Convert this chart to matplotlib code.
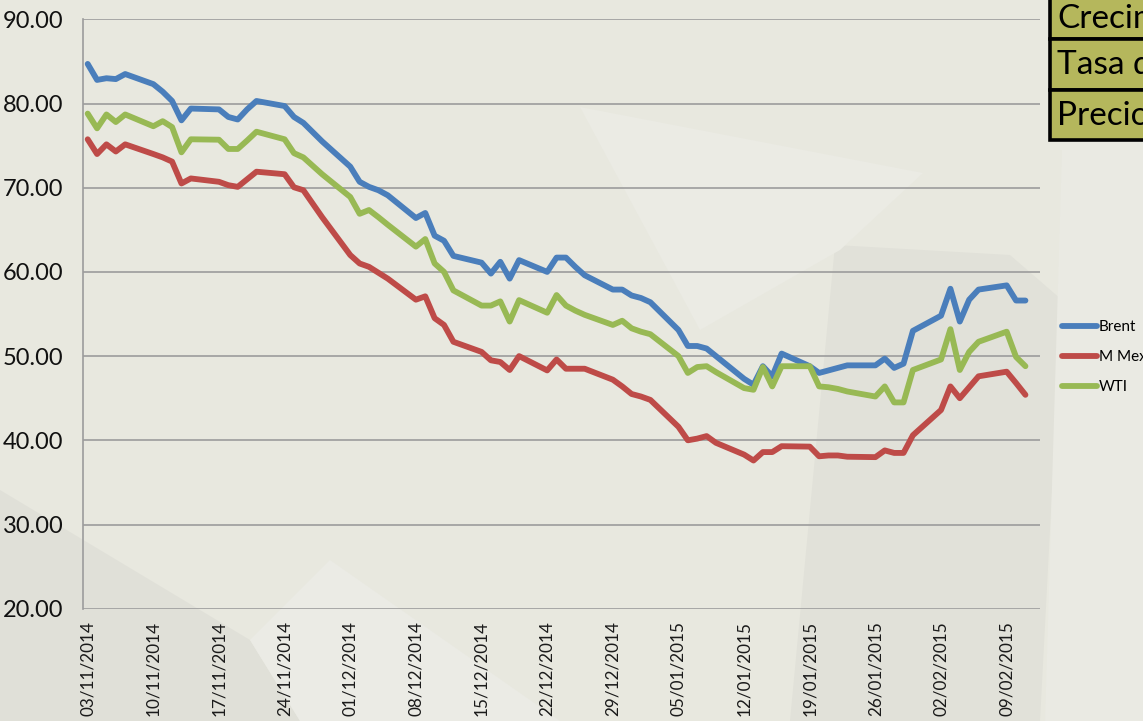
import matplotlib
matplotlib.use('Agg')
import matplotlib.pyplot as plt
from matplotlib.patches import Polygon, Rectangle
import pandas as pd

W, H = 1143, 721

# daily crude prices, US$ per barrel (weekdays 03/11/2014 - 11/02/2015)
dates = pd.bdate_range('2014-11-03', '2015-02-11')

brent = [84.7, 82.8, 83.0, 82.9, 83.5,
         82.3, 81.4, 80.3, 78.0, 79.4,
         79.3, 78.4, 78.1, 79.3, 80.3,
         79.7, 78.4, 77.7, 76.6, 75.5,
         72.5, 70.7, 70.1, 69.7, 69.1,
         66.4, 67.0, 64.3, 63.7, 61.9,
         61.1, 59.8, 61.2, 59.2, 61.4,
         60.0, 61.7, 61.7, 60.6, 59.6,
         57.9, 57.9, 57.2, 56.9, 56.4,
         53.1, 51.2, 51.2, 50.9, 50.0,
         47.3, 46.6, 48.8, 47.6, 50.3,
         48.8, 48.0, 48.3, 48.6, 48.9,
         48.9, 49.7, 48.6, 49.1, 53.0,
         54.8, 58.0, 54.1, 56.7, 57.9,
         58.4, 56.6, 56.6]

mmex = [75.75, 74.0, 75.15, 74.3, 75.15,
        74.0, 73.6, 73.1, 70.5, 71.1,
        70.7, 70.3, 70.1, 71.0, 71.9,
        71.6, 70.05, 69.7, 68.1, 66.5,
        62.0, 61.0, 60.6, 59.9, 59.2,
        56.7, 57.1, 54.5, 53.7, 51.7,
        50.5, 49.5, 49.3, 48.35, 50.0,
        48.3, 49.6, 48.5, 48.5, 48.5,
        47.2, 46.4, 45.5, 45.2, 44.8,
        41.6, 40.0, 40.2, 40.5, 39.7,
        38.3, 37.6, 38.6, 38.6, 39.3,
        39.25, 38.1, 38.2, 38.2, 38.05,
        38.0, 38.8, 38.5, 38.5, 40.6,
        43.6, 46.4, 45.0, 46.3, 47.6,
        48.15, 46.8, 45.4]

wti = [78.8, 77.05, 78.7, 77.8, 78.7,
       77.3, 77.9, 77.2, 74.2, 75.75,
       75.7, 74.6, 74.6, 75.6, 76.65,
       75.75, 74.1, 73.6, 72.6, 71.6,
       68.9, 66.9, 67.35, 66.5, 65.6,
       63.0, 63.9, 61.0, 60.0, 57.8,
       56.0, 56.0, 56.5, 54.1, 56.65,
       55.15, 57.25, 56.0, 55.4, 54.9,
       53.7, 54.2, 53.3, 52.9, 52.6,
       50.0, 48.0, 48.7, 48.8, 48.1,
       46.2, 46.0, 48.7, 46.4, 48.8,
       48.8, 46.4, 46.3, 46.1, 45.8,
       45.2, 46.4, 44.5, 44.5, 48.35,
       49.6, 53.2, 48.35, 50.5, 51.7,
       52.9, 49.9, 48.8]

series_names = ['Brent', 'M Mex', 'WTI']
series_colors = ['#4a7ebb', '#be4b48', '#98b954']
table_rows = ['Crecimiento', 'Tasa de', 'Precio']

plt.rcParams['font.family'] = ['Lato', 'DejaVu Sans']


def px(x, y):
    # pixel position -> figure fraction
    return (x / W, 1 - y / H)


fig = plt.figure(figsize=(W / 100, H / 100), dpi=100, facecolor='#e8e8df')

# soft geometric shapes in the slide background
shapes = [
    ([(0, 490), (0, 721), (300, 721), (250, 640)], '#e0e0d8'),
    ([(250, 640), (300, 721), (560, 721), (330, 560)], '#ebebe5'),
    ([(835, 245), (1010, 255), (1062, 300), (1040, 721), (790, 721)], '#e1e1d9'),
    ([(580, 107), (923, 173), (840, 250), (700, 330)], '#ebebe4'),
    ([(1062, 150), (1143, 150), (1143, 721), (1045, 721)], '#eaeae3'),
]
for pts, col in shapes:
    fig.add_artist(Polygon([px(*p) for p in pts], closed=True, transform=fig.transFigure,
                           facecolor=col, edgecolor='none', zorder=-2))

ax = fig.add_axes([83 / W, 1 - 608.7 / H, (1039.5 - 83) / W, (608.7 - 19.3) / H])
ax.set_facecolor('none')

for vals, name, col in zip([brent, mmex, wti], series_names, series_colors):
    ax.plot(dates, vals, color=col, lw=4.2, label=name,
            solid_joinstyle='round', solid_capstyle='round', zorder=3)

ax.set_ylim(20, 90)
ax.set_yticks(range(20, 91, 10))
ax.yaxis.set_major_formatter(plt.FuncFormatter(lambda v, p: f'{v:.2f}'))
ax.set_xlim(pd.Timestamp('2014-11-02 12:00'), pd.Timestamp('2015-02-12 12:00'))
mondays = pd.date_range('2014-11-03', '2015-02-09', freq='7D')
ax.set_xticks(mondays)
ax.set_xticklabels([d.strftime('%d/%m/%Y') for d in mondays], rotation=90,
                   ha='center', va='top', fontsize=12.3, color='#1a1a1a')
ax.tick_params(axis='x', length=0, pad=9)
ax.tick_params(axis='y', length=0, pad=14, labelsize=17, labelcolor='#111111')

ax.grid(axis='y', color='#9c9c9c', lw=1.2)
ax.set_axisbelow(True)
for s in ['top', 'right', 'bottom']:
    ax.spines[s].set_visible(False)
ax.spines['left'].set_color('#9c9c9c')
ax.spines['left'].set_linewidth(1.2)

ax.legend(loc='upper left', bbox_to_anchor=px(1062, 320), bbox_transform=fig.transFigure,
          frameon=False, borderpad=0, borderaxespad=0, handlelength=2.3,
          handletextpad=0.1, labelspacing=1.05, fontsize=11)

# olive table in the top right corner, cut by the slide edge
row_edges = [-3, 38.5, 89.5, 140]
for i, label in enumerate(table_rows):
    y0, y1 = row_edges[i], row_edges[i + 1]
    fig.add_artist(Rectangle(px(1050, y1), 110 / W, (y1 - y0) / H, transform=fig.transFigure,
                             facecolor='#b5b75c', edgecolor='black', lw=2.6, zorder=4))
    fig.text(1057 / W, 1 - ((y0 + y1) / 2 + 1) / H, label, fontsize=24, color='black',
             ha='left', va='center', zorder=5)

fig.savefig('out.png', dpi=100, facecolor=fig.get_facecolor())
